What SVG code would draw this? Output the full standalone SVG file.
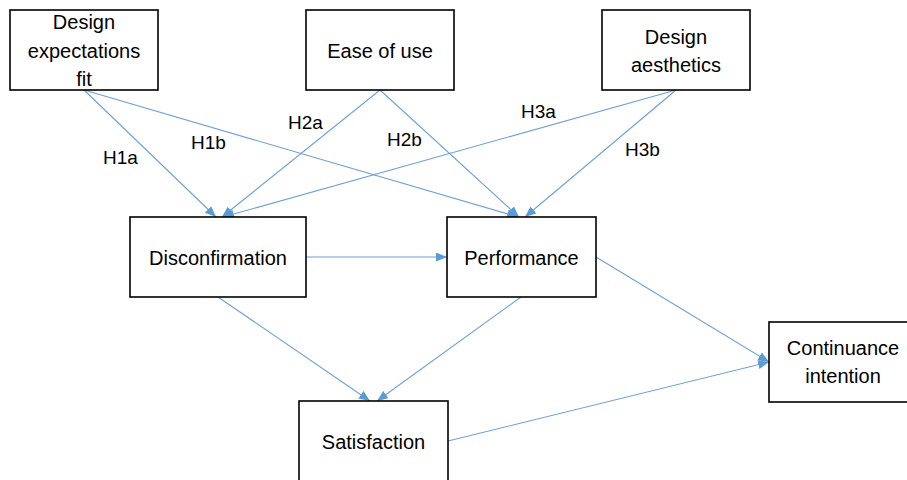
<svg xmlns="http://www.w3.org/2000/svg" width="907" height="480" viewBox="0 0 907 480">
<style>
.box{fill:#fff;stroke:#000;stroke-width:1.6}
.t{font-family:"Liberation Sans",Arial,sans-serif;font-size:20px;fill:#000;text-anchor:middle}
.lbl{font-family:"Liberation Sans",Arial,sans-serif;font-size:19px;fill:#000}
.c{stroke:#6FA0D6;stroke-width:1.1;fill:none;marker-end:url(#ah)}
</style>
<defs>
<marker id="ah" markerUnits="userSpaceOnUse" markerWidth="11" markerHeight="9" refX="11" refY="4.5" orient="auto">
<path d="M0,0 L11,4.5 L0,9 z" fill="#5B9BD5"/>
</marker>
</defs>
<rect width="907" height="480" fill="#fff"/>
<g id="connectors">
<line class="c" x1="84" y1="90" x2="216" y2="217"/>
<line class="c" x1="84" y1="90" x2="518" y2="217"/>
<line class="c" x1="380" y1="90" x2="222" y2="217"/>
<line class="c" x1="380" y1="90" x2="519" y2="217"/>
<line class="c" x1="676" y1="90" x2="223" y2="217"/>
<line class="c" x1="676" y1="90" x2="525" y2="217"/>
<line class="c" x1="306" y1="257" x2="447" y2="257"/>
<line class="c" x1="218" y1="297" x2="370" y2="401"/>
<line class="c" x1="521" y1="297" x2="377" y2="401"/>
<line class="c" x1="596" y1="257" x2="769" y2="362"/>
<line class="c" x1="448" y1="441" x2="769" y2="362"/>
</g>
<g id="labels">
<text class="lbl" x="103" y="164">H1a</text>
<text class="lbl" x="191" y="149">H1b</text>
<text class="lbl" x="288" y="129">H2a</text>
<text class="lbl" x="387" y="146">H2b</text>
<text class="lbl" x="521" y="118">H3a</text>
<text class="lbl" x="625" y="156">H3b</text>
</g>
<g id="design-expectations-fit">
<rect class="box" x="10" y="10" width="148" height="80"/>
<text class="t" x="84" y="29">Design</text>
<text class="t" x="84" y="58">expectations</text>
<text class="t" x="84" y="86">fit</text>
</g>
<g id="ease-of-use">
<rect class="box" x="306" y="10" width="148" height="80"/>
<text class="t" x="380" y="58">Ease of use</text>
</g>
<g id="design-aesthetics">
<rect class="box" x="602" y="10" width="148" height="80"/>
<text class="t" x="676" y="44">Design</text>
<text class="t" x="676" y="72">aesthetics</text>
</g>
<g id="disconfirmation">
<rect class="box" x="130" y="217" width="176" height="80"/>
<text class="t" x="218" y="265">Disconfirmation</text>
</g>
<g id="performance">
<rect class="box" x="447" y="217" width="149" height="80"/>
<text class="t" x="521.5" y="265">Performance</text>
</g>
<g id="satisfaction">
<rect class="box" x="299" y="401" width="149" height="82"/>
<text class="t" x="373.5" y="449">Satisfaction</text>
</g>
<g id="continuance-intention">
<rect class="box" x="769" y="322" width="150" height="80"/>
<text class="t" x="843" y="355">Continuance</text>
<text class="t" x="843" y="383">intention</text>
</g>
</svg>
